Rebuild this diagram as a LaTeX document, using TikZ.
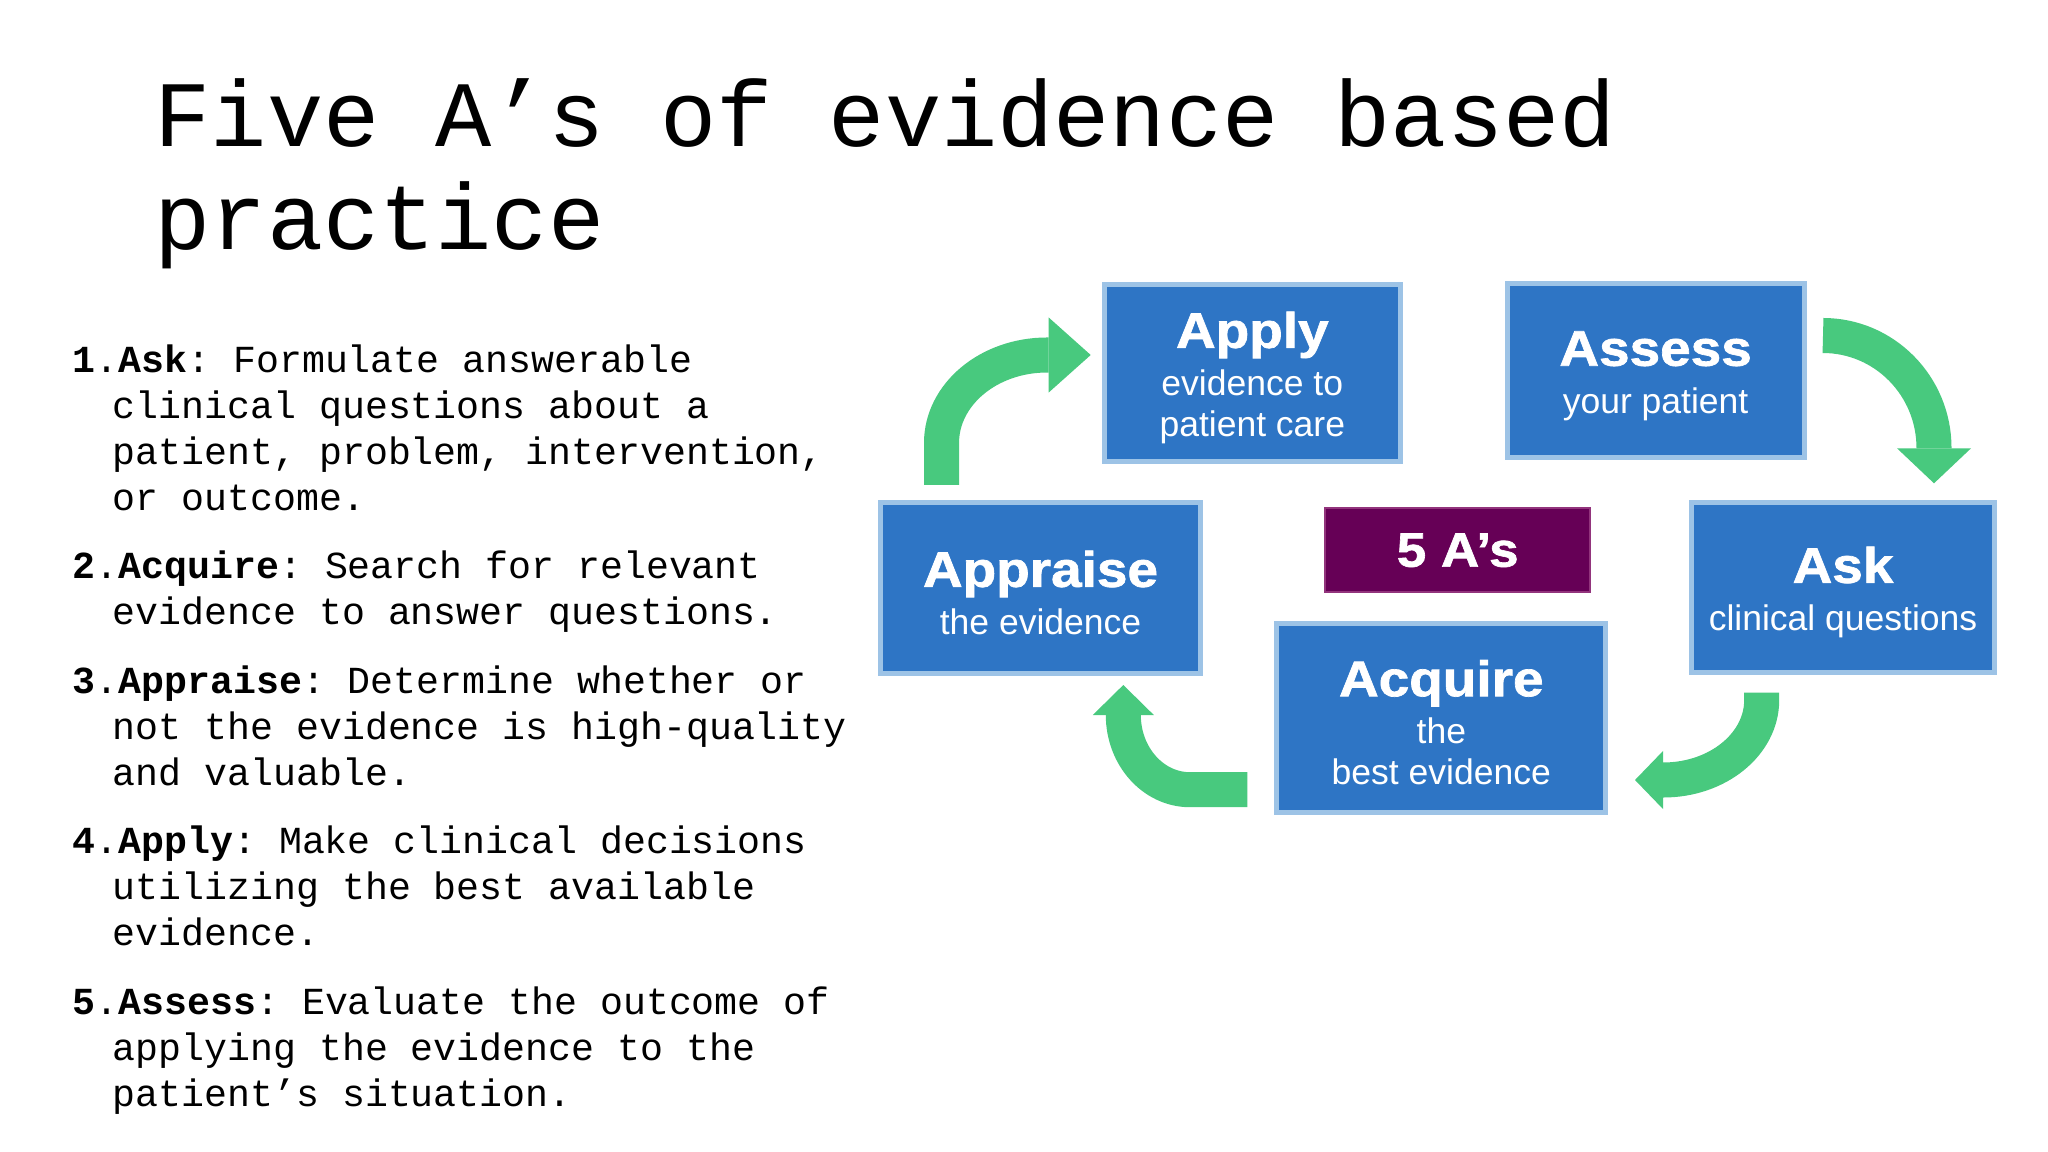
\documentclass[tikz,border=0pt]{standalone}
\usepackage{fontspec}
\usetikzlibrary{arrows.meta, positioning}
\newfontfamily\slidefont{Liberation Mono}
\newfontfamily\boxfont{Liberation Sans}
\newfontfamily\boxheadfont[FakeStretch=1.1, FakeBold=1.4]{Liberation Sans}
\definecolor{cBox}{RGB}{46,117,197}
\definecolor{cBoxEdge}{RGB}{157,195,230}
\definecolor{cCore}{RGB}{102,0,86}
\definecolor{cCoreEdge}{RGB}{146,52,124}
\definecolor{cCycle}{RGB}{72,201,126}
\newcommand{\boxhead}[1]{{\boxheadfont\bfseries\fontsize{14.2}{14.2}\selectfont\rule{0pt}{13pt}#1}}
\newcommand{\stepstart}{\noindent\spaceskip=0.6em\xspaceskip=0.6em\relax\strut}
\newcommand{\stepbreak}{\newline\hspace*{11.4pt}}
\tikzset{
	slidetitle/.style={anchor=north west, align=left, inner sep=0pt, font=\slidefont\fontsize{26.63}{29.1}\selectfont\frenchspacing},
	stepitem/.style  ={anchor=north west, inner sep=0pt, text width=8cm, font=\slidefont\fontsize{10.87}{13.09}\selectfont\frenchspacing},
	abox/.style      ={rectangle, draw=cBoxEdge, line width=0.05cm, fill=cBox, text=white, align=center, inner sep=0pt, font=\boxfont\fontsize{10.1}{11.67}\selectfont},
	corebox/.style   ={rectangle, draw=cCoreEdge, line width=0.6pt, fill=cCore, text=white, inner sep=0pt, font=\boxheadfont\bfseries\fontsize{13.7}{13.7}\selectfont},
	cycarrow/.style 2 args={draw=cCycle, line width=0.35cm, -{Triangle[length=#1, width=#2, line width'=0pt]}},
}
\begin{document}
\begin{tikzpicture}[x=0.01cm, y=-0.01cm]
	\fill[white] (0,0) rectangle (2048,1152);
	\useasboundingbox (0,0) rectangle (2048,1152);
	% slide title
	\node[slidetitle] (title) at (154,74.4) {\strut Five A’s of evidence based\\practice};
	% the five steps, one below the other
	\node[stepitem] (i1) at (72,339.5)
	{\stepstart\textbf{1}.\textbf{Ask}: Formulate answerable\stepbreak
		clinical questions about a\stepbreak
		patient, problem, intervention,\stepbreak
		or outcome.\strut};
	\node[stepitem, below=5.95pt of i1.south west, anchor=north west] (i2)
	{\stepstart\textbf{2}.\textbf{Acquire}: Search for relevant\stepbreak
		evidence to answer questions.\strut};
	\node[stepitem, below=5.95pt of i2.south west, anchor=north west] (i3)
	{\stepstart\textbf{3}.\textbf{Appraise}: Determine whether or\stepbreak
		not the evidence is high-quality\stepbreak
		and valuable.\strut};
	\node[stepitem, below=5.95pt of i3.south west, anchor=north west] (i4)
	{\stepstart\textbf{4}.\textbf{Apply}: Make clinical decisions\stepbreak
		utilizing the best available\stepbreak
		evidence.\strut};
	\node[stepitem, below=5.95pt of i4.south west, anchor=north west] (i5)
	{\stepstart\textbf{5}.\textbf{Assess}: Evaluate the outcome of\stepbreak
		applying the evidence to the\stepbreak
		patient’s situation.\strut};
	% cycle boxes
	\node[abox, minimum width=2.96cm, minimum height=1.77cm] (apply) at (1252.3,373) {\boxhead{Apply}\\[1.9pt]evidence to\\patient care};
	\node[abox, minimum width=2.97cm, minimum height=1.74cm] (assess) at (1655.6,370.4) {\boxhead{Assess}\\[1.9pt]your patient};
	\node[abox, minimum width=3.20cm, minimum height=1.70cm] (appraise) at (1040.5,588) {\boxhead{Appraise}\\[1.9pt]the evidence};
	\node[abox, minimum width=3.02cm, minimum height=1.70cm] (ask) at (1843,587.5) {\boxhead{Ask}\\[1.9pt]clinical questions};
	\node[abox, minimum width=3.29cm, minimum height=1.89cm] (acquire) at (1441.3,717.9) {\boxhead{Acquire}\\[1.9pt]the\\best evidence};
	\node[corebox, minimum width=2.65cm, minimum height=0.84cm] (core) at (1457.7,550.3) {5 A’s};
	% curved arrows between the boxes
	\coordinate (a1s) at (941.5,485);
	\coordinate (a1e) at (1090.7,355);
	\coordinate (a2s) at (1823,335.5);
	\coordinate (a2e) at (1934,483.3);
	\coordinate (a3s) at (1761.7,692.7);
	\coordinate (a3e) at (1635,780);
	\coordinate (a4s) at (1247.3,789.7);
	\coordinate (a4e) at (1123.3,685);
	\draw[cycarrow={0.42cm}{0.75cm}] (a1s) -- (941.5,443) .. controls +(0,-48.6) and +(-58.3,0) .. (1047,355) -- (a1e);
	\draw[cycarrow={0.35cm}{0.74cm}] (a2s) .. controls +(61.3,0) and +(0,-62.1) .. (1934,448) -- (a2e);
	\draw[cycarrow={0.28cm}{0.58cm}] (a3s) -- (1761.7,700) .. controls +(0,44.2) and +(54.3,0) .. (1663.3,780) -- (a3e);
	\draw[cycarrow={0.30cm}{0.61cm}] (a4s) -- (1190,789.7) .. controls +(-36.8,0) and +(0,41.3) .. (1123.3,715) -- (a4e);
\end{tikzpicture}
\end{document}
